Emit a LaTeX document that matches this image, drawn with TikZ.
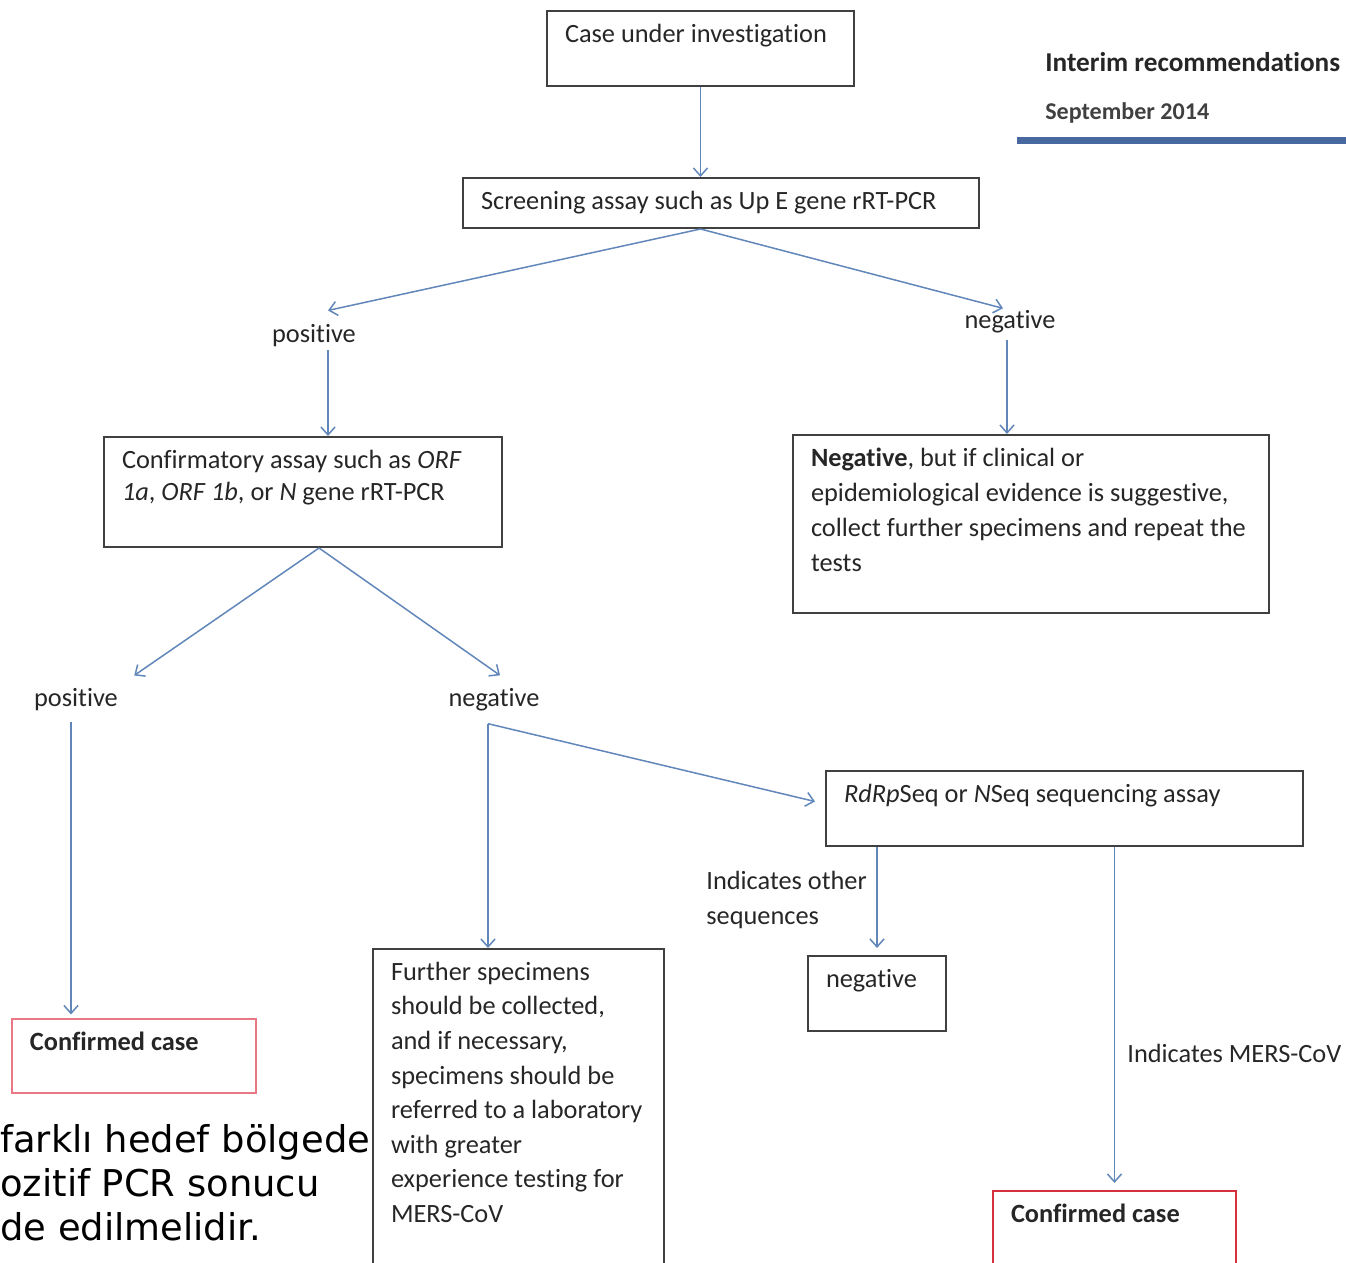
\documentclass[tikz,border=0pt]{standalone}
\usepackage{fontspec}
\setmainfont{Carlito}[Ligatures={NoCommon,NoContextual},Contextuals=NoAlternate]
\newfontfamily\trfont{DejaVu Sans}
\usetikzlibrary{calc,arrows.meta}
\newlength{\pxu}
\setlength{\pxu}{0.02cm}
\definecolor{arrowblue}{RGB}{96,134,186}
\definecolor{boxgray}{RGB}{64,64,64}
\definecolor{textgray}{RGB}{38,38,38}
\definecolor{pinkred}{RGB}{232,120,132}
\definecolor{darkred}{RGB}{214,48,62}
\definecolor{barblue}{RGB}{72,104,160}

\begin{document}
\begin{tikzpicture}
  [x=0.02cm, y=-0.02cm,
   cell/.style={draw=boxgray, line width=2*\pxu, inner xsep=18*\pxu, inner ysep=13*\pxu,
     anchor=north west, text=textgray, font=\fontsize{15}{19.5}\selectfont},
   lbl/.style={inner sep=6*\pxu, text=textgray, font=\fontsize{15}{19.5}\selectfont},
   arr/.style={draw=arrowblue, line width=0.85pt, -{Straight Barb[length=4.5pt,width=8pt]}}]

  \newcommand{\boxtext}[3]{\parbox[t][#2\pxu][t]{#1\pxu}{\raggedright #3}}

  \clip (0,0) rectangle (1346,1262);

  % header
  \node[anchor=west, inner sep=0, text=textgray, font=\bfseries\fontsize{15.5}{18}\selectfont] (interim) at (1045,62) {Interim recommendations};
  \node[anchor=west, inner sep=0, text=boxgray, font=\bfseries\fontsize{13.7}{16}\selectfont] (sept) at (1045,113) {September 2014};
  \fill[barblue] (1017,137) rectangle (1346,144);

  % boxes
  \node[cell] (case) at (546,10) {\boxtext{271}{49}{Case under investigation}};
  \node[cell] (screen) at (462,177) {\boxtext{480}{24}{Screening assay such as Up E gene rRT-PCR}};
  \node[cell, font=\fontsize{15}{18.2}\selectfont] (confirm) at (103,436)
    {\boxtext{362}{84}{Confirmatory assay such as \textit{ORF}\\\textit{1a}, \textit{ORF 1b}, or \textit{N} gene rRT-PCR}};
  \node[cell, font=\fontsize{15}{19.9}\selectfont] (negbox) at (792,434)
    {\boxtext{440}{152}{\textbf{Negative}, but if clinical or\\epidemiological evidence is suggestive,\\collect further specimens and repeat the\\tests}};
  \node[cell, draw=pinkred] (confl) at (11,1018) {\boxtext{208}{48}{\textbf{Confirmed case}}};
  \node[cell] (seq) at (825,770) {\boxtext{441}{49}{\textit{RdRp}Seq or \textit{N}Seq sequencing assay}};
  \node[cell] (seqneg) at (807,955) {\boxtext{102}{49}{negative}};
  \node[cell, font=\fontsize{15}{19.7}\selectfont] (further) at (372,948)
    {\boxtext{255}{330}{Further specimens\\should be collected,\\and if necessary,\\specimens should be\\referred to a laboratory\\with greater\\experience testing for\\MERS-CoV}};
  \node[cell, draw=darkred] (confr) at (992,1190) {\boxtext{207}{80}{\textbf{Confirmed case}}};

  % branch labels
  \node[lbl] (pos1) at (314,336) {positive};
  \node[lbl] (neg1) at (1010,322) {negative};
  \node[lbl] (pos2) at (76,700) {positive};
  \node[lbl] (neg2) at (494,700) {negative};
  \node[lbl, anchor=west, align=left, font=\fontsize{15}{20}\selectfont] (other) at (700,900) {Indicates other\\sequences};
  \node[lbl, anchor=west] (mers) at (1121,1053) {Indicates MERS-CoV};

  \node[anchor=north west, inner sep=0, align=left, text=black, font=\trfont\fontsize{21}{25}\selectfont] (tr) at (0,1124)
    {farklı hedef bölgede\\ozitif PCR sonucu\\de edilmelidir.};

  % connectors
  \draw[arr] (case.south) -- (case.south |- screen.north);
  \coordinate (ss) at (case.south |- screen.south);
  \draw[arr] (ss) -- ($(pos1.north)+(14,-8)$);
  \draw[arr] (ss) -- ($(neg1.north)+(-7,4)$);

  \coordinate (p1) at ($(pos1.south)+(14,-4)$);
  \draw[arr] (p1) -- (p1 |- confirm.north);
  \coordinate (n1) at ($(neg1.south)+(-3,0)$);
  \draw[arr] (n1) -- (n1 |- negbox.north);

  \coordinate (cs) at ($(confirm.south)+(16,0)$);
  \draw[arr] (cs) -- ($(pos2.north east)+(10,-7)$);
  \draw[arr] (cs) -- ($(neg2.north)+(6,-7)$);

  \coordinate (p2) at ($(pos2.south)+(-5,4)$);
  \draw[arr, shorten >=2pt] (p2) -- (p2 |- confl.north);
  \coordinate (n2) at ($(neg2.south)+(-6,6)$);
  \draw[arr] (n2) -- (n2 |- further.north);
  \draw[arr] (n2) -- ($(seq.west)+(-10,-7)$);

  \draw[arr, shorten >=4pt] (seqneg.north |- seq.south) -- (seqneg.north);
  \draw[arr, shorten >=4pt] (confr.north |- seq.south) -- (confr.north);

\end{tikzpicture}
\end{document}
